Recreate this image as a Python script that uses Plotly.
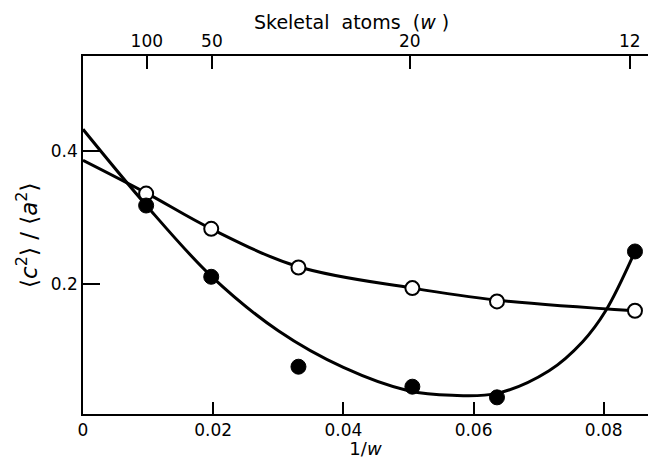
import plotly.graph_objects as go

# Measured ratios <c^2>/<a^2> versus reciprocal chain length 1/w
inv_w = [0.0097, 0.0197, 0.0331, 0.0506, 0.0636, 0.0848]
open_vals = [0.336, 0.283, 0.225, 0.194, 0.174, 0.160]
filled_vals = [0.318, 0.211, 0.076, 0.046, 0.030, 0.249]

# Smooth curves drawn through the two series
open_curve_x = [0.0, 0.0097, 0.0197, 0.0331, 0.0506, 0.0636, 0.0848]
open_curve_y = [0.386, 0.337, 0.283, 0.226, 0.194, 0.176, 0.160]
filled_curve_x = [0.0, 0.0097, 0.0197, 0.0300, 0.0400, 0.0500, 0.0567, 0.0636, 0.0716, 0.0768, 0.0803, 0.0848]
filled_curve_y = [0.4325, 0.3185, 0.212, 0.130, 0.075, 0.040, 0.033, 0.036, 0.070, 0.114, 0.160, 0.249]

# Top axis: number of skeletal atoms w
top_tick_pos = [0.0098, 0.0198, 0.0502, 0.0840]
top_tick_text = ["100", "50", "20", "12"]

bottom_ticks = [0.0, 0.02, 0.04, 0.06, 0.08]
bottom_text = ["0", "0.02", "0.04", "0.06", "0.08"]
left_ticks = [0.2, 0.4]
left_text = ["0.2", "0.4"]

x_range = [0.0, 0.0868]
y_range = [0.005, 0.5425]

font_family = "DejaVu Sans, sans-serif"
NB = "\u00a0"

fig = go.Figure()
fig.add_trace(go.Scatter(x=open_curve_x, y=open_curve_y, mode="lines",
                         line=dict(color="black", width=3, shape="spline", smoothing=1.0),
                         showlegend=False, hoverinfo="skip"))
fig.add_trace(go.Scatter(x=filled_curve_x, y=filled_curve_y, mode="lines",
                         line=dict(color="black", width=3, shape="spline", smoothing=1.0),
                         showlegend=False, hoverinfo="skip"))
fig.add_trace(go.Scatter(x=inv_w, y=open_vals, mode="markers",
                         marker=dict(size=14, color="white", line=dict(color="black", width=2)),
                         showlegend=False))
fig.add_trace(go.Scatter(x=inv_w, y=filled_vals, mode="markers",
                         marker=dict(size=15, color="black", line=dict(color="black", width=1)),
                         showlegend=False))
# invisible trace carrying the top axis
fig.add_trace(go.Scatter(x=top_tick_pos, y=[None] * len(top_tick_pos), xaxis="x2",
                         mode="markers", showlegend=False, hoverinfo="skip"))

fig.update_layout(
    width=650, height=459,
    margin=dict(l=83, r=2, t=56, b=45),
    paper_bgcolor="white", plot_bgcolor="white",
    font=dict(family=font_family, size=17, color="black"),
    xaxis=dict(range=x_range, tickvals=bottom_ticks, ticktext=bottom_text,
               ticks="inside", ticklen=12, tickwidth=1.5, tickcolor="black",
               showline=True, linecolor="black", linewidth=1.5,
               showgrid=False, zeroline=False, tickfont=dict(size=17),
               title=dict(text="1/<i>w</i>", standoff=0, font=dict(size=18))),
    xaxis2=dict(range=x_range, overlaying="x", side="top", anchor="y",
                tickvals=top_tick_pos, ticktext=top_tick_text,
                ticks="inside", ticklen=13, tickwidth=1.5, tickcolor="black",
                showline=True, linecolor="black", linewidth=1.5,
                showgrid=False, zeroline=False, tickfont=dict(size=17)),
    yaxis=dict(range=y_range, tickvals=left_ticks, ticktext=left_text,
               ticks="inside", ticklen=17, tickwidth=1.5, tickcolor="black",
               showline=True, linecolor="black", linewidth=1.5,
               showgrid=False, zeroline=False, tickfont=dict(size=17)),
)

# y-axis title, placed by hand so the tall brackets sit left of the tick labels
fig.add_annotation(
    text="⟨<i>c</i><sup>2</sup>⟩" + NB + "/" + NB + "⟨<i>a</i><sup>2</sup>⟩",
    xref="paper", yref="paper", x=0, y=0.5, xshift=-56,
    textangle=-90, showarrow=False, font=dict(size=23),
    xanchor="center", yanchor="middle")

fig.add_annotation(text="Skeletal" + NB + " atoms" + NB + " (<i>w</i> )", xref="paper", yref="paper",
                   x=(351 - 83) / (648 - 83), y=1, yshift=34, showarrow=False,
                   font=dict(size=19), xanchor="center", yanchor="middle")

fig.write_html("out.html")
